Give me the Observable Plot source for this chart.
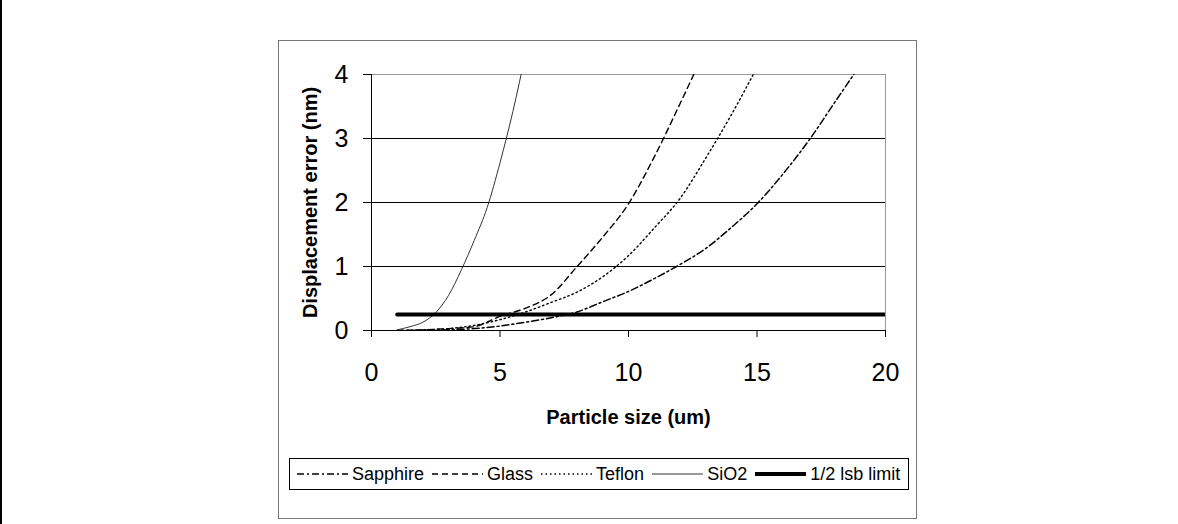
<!DOCTYPE html>
<html>
<head>
<meta charset="utf-8">
<script src="https://cdn.jsdelivr.net/npm/d3@7"></script>
<script src="https://cdn.jsdelivr.net/npm/@observablehq/plot@0.6"></script>
<style>
  html, body { margin: 0; padding: 0; background: #fff; width: 1178px; height: 524px; overflow: hidden; }
  body { position: relative; font-family: "Liberation Sans", Arial, sans-serif; }
  #leftbar { position: absolute; left: 0; top: 0; width: 2px; height: 524px; background: #000; }
  #frame { position: absolute; left: 278px; top: 40px; width: 639px; height: 479px; box-sizing: border-box; border: 1.5px solid #777; }
  #chart { position: absolute; left: 278px; top: 40px; }
  #legend { position: absolute; left: 289px; top: 458px; width: 620px; height: 32px; box-sizing: border-box; border: 1px solid #000; background: #fff;
            display: flex; align-items: center; padding-left: 7px; font-size: 18px; color: #000; white-space: nowrap; }
  #legend .item { display: flex; align-items: center; margin-right: 8px; }
  #legend svg { margin-right: 4px; }
</style>
</head>
<body>
<div id="leftbar"></div>
<div id="frame"></div>
<div id="chart"></div>
<div id="legend"></div>
<script>
// ---- data ----
const xTicks = [0, 5, 10, 15, 20];
const yTicks = [0, 1, 2, 3, 4];
const gridValues = [1, 2, 3];

const sio2Size = [1, 1.5, 2, 2.5, 3, 3.5, 4, 4.5, 5, 5.5, 6];
const sio2Err  = [0.01, 0.06, 0.13, 0.28, 0.55, 0.95, 1.41, 1.92, 2.62, 3.42, 4.34];

const glassSize = [1, 2, 3, 4, 5, 6, 7, 8, 9, 10, 11, 12, 13];
const glassErr  = [0, 0.01, 0.03, 0.06, 0.22, 0.35, 0.56, 1.0, 1.46, 1.98, 2.71, 3.54, 4.4];

const teflonSize = [1, 2, 3, 4, 5, 6, 7, 8, 9, 10, 11, 12, 13, 14, 15];
const teflonErr  = [0, 0.01, 0.03, 0.08, 0.17, 0.29, 0.44, 0.60, 0.84, 1.17, 1.60, 2.06, 2.69, 3.37, 4.11];

const sapphireSize = [1, 2, 3, 4, 5, 6, 7, 8, 9, 10, 11, 12, 13, 14, 15, 16, 17, 18, 19];
const sapphireErr  = [0, 0, 0.01, 0.03, 0.07, 0.13, 0.20, 0.29, 0.45, 0.61, 0.81, 1.03, 1.28, 1.61, 1.98, 2.44, 2.96, 3.55, 4.14];

const limitSize = [1, 20];
const limitErr  = [0.25, 0.25];

const seriesNames = ["Sapphire", "Glass", "Teflon", "SiO2", "1/2 lsb limit"];
const xTitle = "Particle size (um)";
const yTitle = "Displacement error (nm)";

// ---- styles ----
const styles = {
  "Sapphire":      {stroke: "#000", strokeWidth: 1.5, dash: "7,3,2,3"},
  "Glass":         {stroke: "#000", strokeWidth: 1.4, dash: "6,4"},
  "Teflon":        {stroke: "#000", strokeWidth: 1.4, dash: "1.5,3"},
  "SiO2":          {stroke: "#333", strokeWidth: 1, dash: null},
  "1/2 lsb limit": {stroke: "#000", strokeWidth: 4, dash: null}
};

function toRows(xs, ys) { return xs.map((x, i) => ({x, y: ys[i]})); }

function lineMark(name, xs, ys, curve) {
  const s = styles[name];
  return Plot.line(toRows(xs, ys), {
    x: "x", y: "y", curve: curve,
    stroke: s.stroke, strokeWidth: s.strokeWidth,
    strokeDasharray: s.dash || undefined,
    clip: true
  });
}

const chart = Plot.plot({
  width: 639,
  height: 390,
  marginLeft: 93,
  marginRight: 32,
  marginTop: 34,
  marginBottom: 100,
  style: {fontFamily: "'Liberation Sans', Arial, sans-serif", background: "transparent", overflow: "visible", color: "#000"},
  x: {domain: [0, 20]},
  y: {domain: [0, 4]},
  marks: [
    Plot.ruleY(gridValues, {stroke: "#000", strokeWidth: 1}),
    Plot.ruleY([4], {stroke: "#999", strokeWidth: 1}),
    Plot.ruleX([20], {stroke: "#999", strokeWidth: 1}),
    Plot.axisX({ticks: xTicks, tickFormat: d => String(d), tickSize: 7, tickPadding: 26, fontSize: 25, label: null, stroke: "#000"}),
    Plot.axisY({ticks: yTicks, tickFormat: d => String(d), tickSize: 8, tickPadding: 15, fontSize: 25, label: null, stroke: "#000"}),
    Plot.ruleX([0], {stroke: "#000"}),
    Plot.ruleY([0], {stroke: "#000"}),
    lineMark("Sapphire", sapphireSize, sapphireErr, "monotone-x"),
    lineMark("Glass", glassSize, glassErr, "monotone-x"),
    lineMark("Teflon", teflonSize, teflonErr, "monotone-x"),
    lineMark("SiO2", sio2Size, sio2Err, "monotone-x"),
    lineMark("1/2 lsb limit", limitSize, limitErr, "linear"),
    Plot.text([xTitle], {frameAnchor: "bottom", lineAnchor: "middle", textAnchor: "middle", dy: 87, fontSize: 20, fontWeight: "bold", fill: "#000"}),
    Plot.text([yTitle], {frameAnchor: "left", lineAnchor: "middle", textAnchor: "middle", dx: -61, rotate: -90, fontSize: 20, fontWeight: "bold", fill: "#000"})
  ]
});
document.getElementById("chart").appendChild(chart);

// ---- legend ----
const legend = document.getElementById("legend");
const ns = "http://www.w3.org/2000/svg";
seriesNames.forEach(name => {
  const s = styles[name];
  const item = document.createElement("div");
  item.className = "item";
  const svg = document.createElementNS(ns, "svg");
  svg.setAttribute("width", 51);
  svg.setAttribute("height", 10);
  const ln = document.createElementNS(ns, "line");
  ln.setAttribute("x1", 0); ln.setAttribute("x2", 51);
  ln.setAttribute("y1", 5); ln.setAttribute("y2", 5);
  ln.setAttribute("stroke", s.stroke);
  ln.setAttribute("stroke-width", s.strokeWidth);
  if (s.dash) ln.setAttribute("stroke-dasharray", s.dash);
  svg.appendChild(ln);
  const label = document.createElement("span");
  label.textContent = name;
  item.appendChild(svg);
  item.appendChild(label);
  legend.appendChild(item);
});
</script>
</body>
</html>
